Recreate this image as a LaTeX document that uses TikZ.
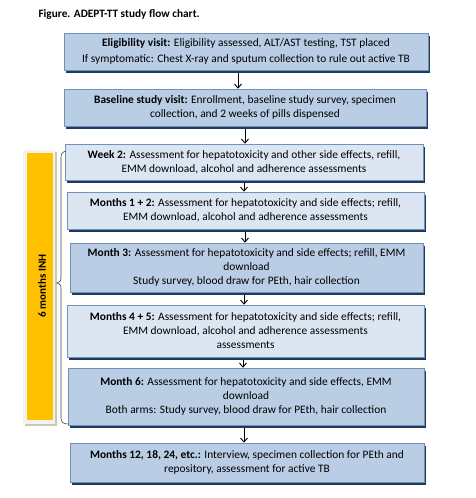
\documentclass[tikz,border=0pt]{standalone}
\usepackage{fontspec}
\setmainfont{Carlito}
\usetikzlibrary{arrows.meta,shadows}
\definecolor{boxmid}{HTML}{B9CDE5}
\definecolor{boxlight}{HTML}{DCE6F2}
\definecolor{boxedge}{HTML}{7191B8}
\definecolor{navy}{HTML}{1F3A5F}
\definecolor{gold}{HTML}{FFC000}
\definecolor{framefill}{HTML}{F4F4EE}
\definecolor{frameshadow}{HTML}{C8C8B4}
\tikzset{
  flowbox/.style={draw=boxedge, line width=0.6pt, inner sep=0pt, align=center,
    font=\fontsize{11.4}{14}\selectfont,
    drop shadow={shadow xshift=1.5pt, shadow yshift=-2.5pt, fill=navy, opacity=1}},
  midbox/.style={flowbox, fill=boxmid},
  lightbox/.style={flowbox, fill=boxlight},
  arr/.style={-{Straight Barb[length=4pt,width=7pt]}, line width=0.9pt, black},
}
\begin{document}
\begin{tikzpicture}[x=1pt,y=-1pt]
\useasboundingbox (0,0) rectangle (476,498);
\fill[white] (0,0) rectangle (476,498);
\node[anchor=west, font=\fontsize{11.3}{12}\selectfont\bfseries] (title) at (35,14) {Figure. ADEPT-TT study flow chart.};

\node[midbox, minimum width=364pt, minimum height=37pt, font=\fontsize{11.4}{15.5}\selectfont] (b1) at (246,51.5)
 {\textbf{Eligibility visit:} Eligibility assessed, ALT/AST testing, TST placed\\If symptomatic: Chest X-ray and sputum collection to rule out active TB};
\node[midbox, minimum width=362pt, minimum height=37pt] (b2) at (245,107.5)
 {\textbf{Baseline study visit:} Enrollment, baseline study survey, specimen\\collection, and 2 weeks of pills dispensed};
\node[lightbox, minimum width=358pt, minimum height=36pt] (b3) at (244,162)
 {\textbf{Week 2:} Assessment for hepatotoxicity and other side effects, refill,\\EMM download, alcohol and adherence assessments};
\node[lightbox, minimum width=357pt, minimum height=37pt] (b4) at (245.5,210.5)
 {\textbf{Months 1 + 2:} Assessment for hepatotoxicity and side effects; refill,\\EMM download, alcohol and adherence assessments};
\node[midbox, minimum width=353pt, minimum height=49pt] (b5) at (246.5,267.5)
 {\textbf{Month 3:} Assessment for hepatotoxicity and side effects; refill, EMM\\download\\Study survey, blood draw for PEth, hair collection};
\node[lightbox, minimum width=357pt, minimum height=52pt] (b6) at (245.5,331)
 {\textbf{Months 4 + 5:} Assessment for hepatotoxicity and side effects; refill,\\EMM download, alcohol and adherence assessments\\assessments};
\node[midbox, minimum width=356pt, minimum height=57pt] (b7) at (246,396.5)
 {\textbf{Month 6:} Assessment for hepatotoxicity and side effects, EMM\\download\\Both arms: Study survey, blood draw for PEth, hair collection};
\node[midbox, minimum width=354pt, minimum height=39pt] (b8) at (247,462.5)
 {\textbf{Months 12, 18, 24, etc.:} Interview, specimen collection for PEth and\\repository, assessment for active TB};

\draw[arr] ([xshift=-8pt,yshift=-3pt]b1.south) -- ([xshift=-8pt]b1.south |- b2.north);
\draw[arr] ([yshift=-3pt]b2.south) -- (b2.south |- b3.north);
\draw[arr] ([yshift=-3pt]b3.south) -- (b3.south |- b4.north);
\draw[arr] ([xshift=-0.5pt,yshift=-3pt]b4.south) -- ([xshift=-0.5pt]b4.south |- b5.north);
\draw[arr] ([xshift=-2.5pt,yshift=-3pt]b5.south) -- ([xshift=-2.5pt]b5.south |- b6.north);
\draw[arr] ([xshift=-2.5pt,yshift=-3pt]b6.south) -- ([xshift=-2.5pt]b6.south |- b7.north);
\draw[arr] ([xshift=-2pt,yshift=-3pt]b7.south) -- ([xshift=-2pt]b7.south |- b8.north);

% six months INH bar
\fill[frameshadow] (25,152) rectangle (57,426);
\fill[framefill] (23,150) rectangle (55,424);
\node[fill=gold, minimum width=26pt, minimum height=267pt, inner sep=0pt] (bar) at (40,286.5) {};
\node[rotate=90, font=\fontsize{11}{12}\selectfont\bfseries] (inh) at (42,286) {6 months INH};

% brace
\coordinate (btop) at (66,151);
\coordinate (btip) at (57,283);
\coordinate (bbot) at (68,424);
\draw[line width=0.6pt, black!75] (btop) .. controls (62,152) and (61,154) .. (61,158)
  -- (61,278) .. controls (61,281) .. (btip)
  .. controls (61,285) .. (61,288) -- (61,418)
  .. controls (61,422) and (63,424) .. (bbot);
\end{tikzpicture}
\end{document}
